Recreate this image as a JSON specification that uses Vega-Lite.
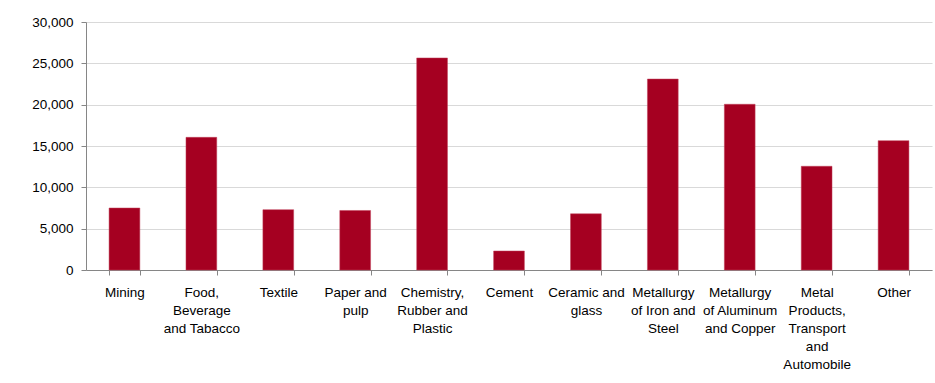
{
  "$schema": "https://vega.github.io/schema/vega-lite/v6.json",
  "autosize": "none",
  "width": 846,
  "height": 248,
  "padding": {"left": 86, "top": 22, "right": 3, "bottom": 113},
  "background": "white",
  "data": {
    "values": [
      {"sector": "Mining", "value": 7500},
      {"sector": "Food,\nBeverage\nand Tabacco", "value": 16050},
      {"sector": "Textile", "value": 7300},
      {"sector": "Paper and\npulp", "value": 7200},
      {"sector": "Chemistry,\nRubber and\nPlastic", "value": 25650},
      {"sector": "Cement", "value": 2300},
      {"sector": "Ceramic and\nglass", "value": 6800},
      {"sector": "Metallurgy\nof Iron and\nSteel", "value": 23100},
      {"sector": "Metallurgy\nof Aluminum\nand Copper", "value": 20050},
      {"sector": "Metal\nProducts,\nTransport\nand\nAutomobile", "value": 12550},
      {"sector": "Other", "value": 15650}
    ]
  },
  "mark": {"type": "bar", "color": "#A50021", "stroke": "#C0405A", "strokeWidth": 0.5},
  "encoding": {
    "x": {
      "field": "sector",
      "type": "nominal",
      "sort": null,
      "scale": {"paddingInner": 0.6, "paddingOuter": 0.3},
      "axis": {
        "title": null,
        "labelAngle": 0,
        "labelExpr": "split(datum.label, '\\n')",
        "labelLineHeight": 18,
        "labelFont": "Liberation Sans",
        "labelFontSize": 13.5,
        "labelColor": "#000000",
        "labelPadding": 10,
        "labelLimit": 0,
        "tickBand": "extent",
        "tickSize": 5,
        "tickColor": "#868686",
        "domainColor": "#868686",
        "grid": false
      }
    },
    "y": {
      "field": "value",
      "type": "quantitative",
      "scale": {"domain": [0, 30000], "nice": false},
      "axis": {
        "title": null,
        "values": [0, 5000, 10000, 15000, 20000, 25000, 30000],
        "format": ",.0f",
        "labelFont": "Liberation Sans",
        "labelFontSize": 13.5,
        "labelColor": "#000000",
        "labelPadding": 8,
        "tickSize": 5,
        "tickColor": "#868686",
        "domainColor": "#868686",
        "grid": true,
        "gridColor": "#D9D9D9"
      }
    }
  },
  "config": {"view": {"stroke": null}}
}
